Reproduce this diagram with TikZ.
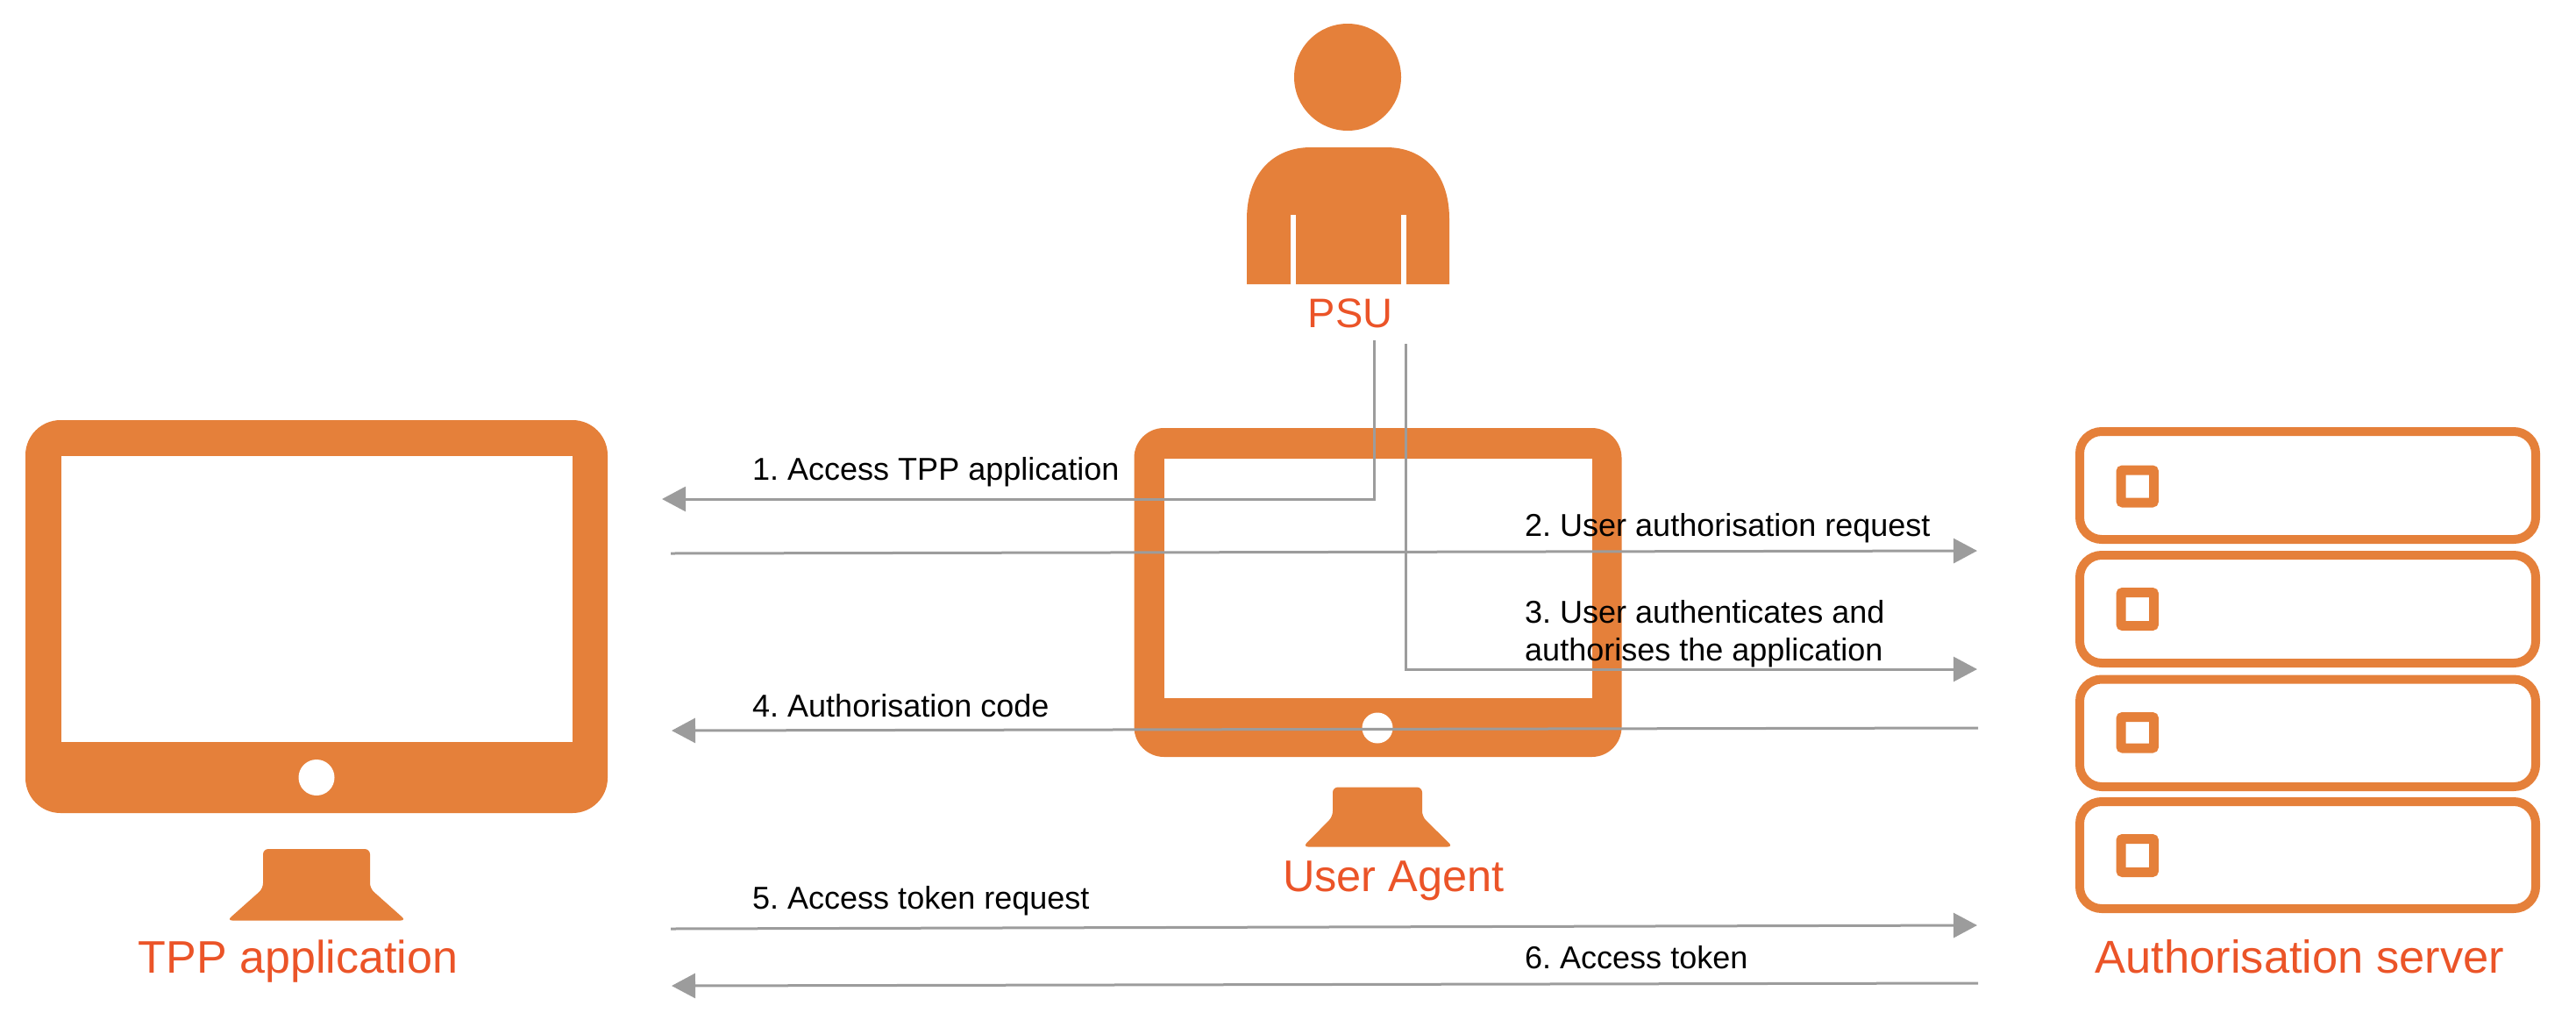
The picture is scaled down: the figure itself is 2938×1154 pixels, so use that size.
\documentclass[tikz,border=0pt]{standalone}
\usepackage{fontspec}
\setmainfont{Liberation Sans}
\usetikzlibrary{arrows.meta}
\definecolor{iconorange}{HTML}{E5803A}
\definecolor{labelred}{HTML}{EB5428}
\definecolor{flowgray}{HTML}{9C9C9C}
\frenchspacing
\tikzset{
  icon/.style={fill=iconorange,draw=none},
  hole/.style={fill=white,draw=none},
  rackbox/.style={draw=iconorange,line width=10pt,rounded corners=25pt},
  rackled/.style={draw=iconorange,line width=11pt,rounded corners=2pt},
  title/.style={anchor=base,inner sep=0pt,text=labelred},
  flowtext/.style={anchor=base west,inner sep=0pt,text=black,font=\fontsize{36}{46}\selectfont},
  flow/.style={draw=flowgray,line width=3pt,-{Triangle[length=27pt,width=28pt]}}
}
\begin{document}
\begin{tikzpicture}[x=1pt,y=-1pt]
\useasboundingbox (0,0) rectangle (2938,1154);
% PSU
\fill[icon] (1537,88) circle[radius=61pt];
\fill[icon] (1422,324) -- (1422,250) .. controls (1422,198) and (1452,168) .. (1495,168) -- (1581,168) .. controls (1624,168) and (1653,198) .. (1653,250) -- (1653,324) -- cycle;
\fill[hole] (1472,245) rectangle (1478,325);
\fill[hole] (1598,245) rectangle (1604,325);
\node[title,font=\fontsize{47}{56}\selectfont] (psu) at (1540,373) {PSU};
% TPP application
\fill[icon,rounded corners=40pt] (29,479) rectangle (693,927);
\fill[hole] (70,520) rectangle (652.5,846);
\fill[hole] (361,886.5) circle[radius=20.5pt];
\fill[icon,rounded corners=6pt] (300,968) -- (422,968) -- (422,1013) -- (463,1049.5) -- (259,1049.5) -- (300,1013) -- cycle;
\node[title,font=\fontsize{52}{62}\selectfont] (tpp) at (340,1109) {TPP application};
% User agent
\fill[icon,rounded corners=34pt] (1293.5,488) rectangle (1849.5,863);
\fill[hole] (1327.5,523) rectangle (1815.5,796);
\fill[hole] (1571,830) circle[radius=17.5pt];
\fill[icon,rounded corners=6pt] (1520,897.5) -- (1622,897.5) -- (1622,931) -- (1657,965.5) -- (1486,965.5) -- (1520,931) -- cycle;
\node[title,font=\fontsize{50.5}{60}\selectfont] (agent) at (1589.5,1016.5) {User Agent};
% Authorisation server
\foreach \ya/\yb/\la/\lb in {492/615/536/573, 633/756/675.5/713.5, 774.5/897/817.5/853, 914/1036/956.5/994.5}{
  \draw[rackbox] (2372,\ya) rectangle (2892,\yb);
  \draw[rackled] (2419,\la) rectangle (2456.5,\lb);
}
\node[title,font=\fontsize{52.5}{62}\selectfont] (server) at (2623,1109) {Authorisation server};
% connector ends
\coordinate (psuL) at (1567,388);
\coordinate (psuR) at (1603,392);
\coordinate (tppA) at (755,569);
\coordinate (tppB) at (765,631);
\coordinate (srvB) at (2255,628);
\coordinate (srvC) at (2255,763);
\coordinate (srvD) at (2256,830);
\coordinate (tppD) at (766,833);
\coordinate (tppE) at (765,1059);
\coordinate (srvE) at (2255,1055);
\coordinate (srvF) at (2256,1121);
\coordinate (tppF) at (766,1124);
% connectors
\draw[flow] (psuL) |- (tppA);
\draw[flow] (tppB) -- (srvB);
\draw[flow] (psuR) |- (srvC);
\draw[flow] (srvD) -- (tppD);
\draw[flow] (tppE) -- (srvE);
\draw[flow] (srvF) -- (tppF);
% flow labels
\node[flowtext] (l1) at (858,547) {1. Access TPP application};
\node[flowtext] (l2) at (1739,611) {2. User authorisation request};
\node[flowtext] (l3a) at (1739,710) {3. User authenticates and};
\node[flowtext] (l3b) at (1739,753) {authorises the application};
\node[flowtext] (l4) at (858,817) {4. Authorisation code};
\node[flowtext] (l5) at (858,1036) {5. Access token request};
\node[flowtext] (l6) at (1739,1104) {6. Access token};
\end{tikzpicture}
\end{document}
